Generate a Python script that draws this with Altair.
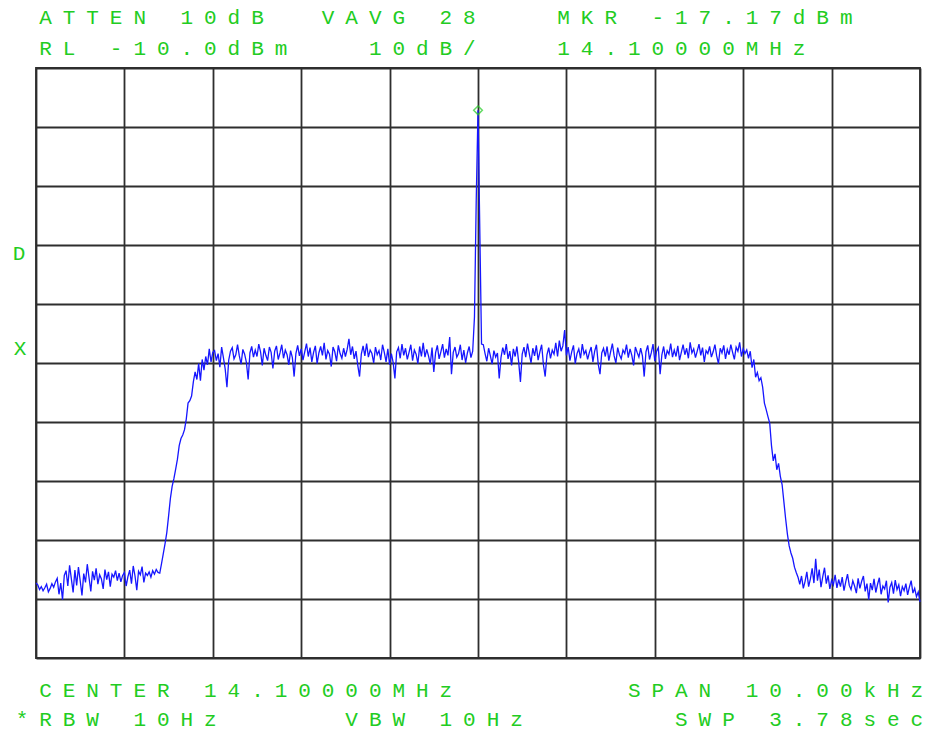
import altair as alt
import numpy as np
import pandas as pd

# ---- instrument settings -------------------------------------------------
center_mhz = 14.10000
span_khz = 10.00
ref_level = -10.0      # dBm, top of screen
db_per_div = 10
marker_dbm = -17.17

# ---- sweep trace (dBm), 501 points left to right --------------------------
floor_left = [
    -97.3, -97.6, -98.4, -97.9, -98.6, -98.1, -97.5, -98.8, -98.2, -97.4,
    -98.0, -97.1, -96.5, -99.2, -97.3, -100.1, -96.0, -95.2, -97.8, -94.3,
    -96.6, -98.9, -95.1, -97.7, -94.6, -96.9, -99.4, -95.7, -97.2, -94.1,
    -96.4, -98.7, -95.3, -96.8, -94.8, -97.5, -95.9, -96.6, -98.3, -95.0,
    -96.7, -95.4, -97.9, -95.8, -96.3, -95.2, -96.9, -95.6, -97.1, -96.0,
    -95.5, -97.8, -96.2, -95.1, -97.4, -94.4, -96.1, -98.5, -95.3, -95.9,
    -94.5, -97.2, -95.6, -96.0, -95.4, -96.3, -95.2, -95.8, -95.0, -95.5,
]
rise_left = [
    -95.6, -94.0, -92.3, -90.6, -88.7, -85.9, -83.0, -80.9, -79.6, -78.0,
    -76.3, -74.0, -72.8, -72.2, -71.3, -69.5, -66.8, -66.4, -65.6, -63.2,
    -61.5,
]
plateau_left = [
    -62.8, -60.1, -63.0, -59.4, -61.2, -58.9, -60.3, -57.6, -59.8, -58.2,
    -57.9, -59.6, -58.4, -60.7, -57.3, -59.1, -61.0, -64.1, -59.5, -58.0,
    -57.4, -59.3, -58.6, -56.9, -58.8, -60.2, -57.7, -58.5, -59.9, -62.8,
    -58.3, -57.2, -59.0, -57.8, -58.9, -56.8, -58.1, -60.4, -57.5, -58.7,
    -59.6, -57.3, -58.2, -60.9, -58.0, -57.1, -59.4, -58.3, -56.9, -59.2,
    -57.8, -58.6, -60.3, -57.9, -59.1, -62.3, -58.4, -57.0, -58.8, -57.6,
    -59.5, -58.1, -56.7, -58.9, -57.4, -59.8, -58.2, -57.1, -60.1, -58.3,
    -57.2, -58.7, -56.6, -59.4, -57.9, -58.5, -60.6, -57.3, -58.1, -59.7,
    -57.0, -58.4, -59.2, -57.5, -58.9, -57.7, -55.9, -58.6, -57.2, -59.3,
    -58.0, -60.4, -62.3, -58.5, -57.1, -58.8, -56.7, -59.0, -57.8, -58.4,
    -60.0, -57.3, -58.6, -57.9, -59.5, -56.9, -58.2, -59.8, -57.6, -60.3,
    -58.4, -59.9, -62.6, -58.1, -57.4, -59.2, -56.8, -58.7, -57.5, -59.4,
    -58.2, -56.9, -59.6, -57.8, -58.5, -60.1, -57.2, -58.9, -56.6, -59.0,
    -57.7, -58.8, -60.2, -57.4, -61.5, -58.3, -57.0, -59.3, -58.1, -56.8,
    -59.1, -57.6, -58.7, -55.6, -61.9, -58.2, -57.3, -59.0, -58.4, -56.9,
    -59.5, -57.8, -60.0, -58.3, -57.2, -59.1, -58.0,
]
carrier = [-52.2, -32.4, marker_dbm, -37.1, -56.8]
plateau_right = [
    -56.9, -58.4, -59.7, -57.5, -58.8, -60.2, -57.9, -59.0,
    -58.3, -62.6, -59.1, -57.4, -58.6, -56.8, -59.3, -58.0, -60.4, -57.6,
    -58.9, -57.2, -59.8, -63.2, -58.5, -57.3, -59.0, -56.7, -58.4, -60.0,
    -57.5, -58.8, -57.0, -59.5, -58.1, -56.9, -60.3, -62.3, -58.6, -57.4,
    -59.2, -57.8, -58.5, -56.6, -58.9, -56.2, -58.0, -57.1, -54.4, -58.7,
    -57.3, -59.6, -58.1, -57.0, -60.1, -58.4, -57.6, -59.2, -56.8, -58.5,
    -57.9, -59.4, -58.2, -57.3, -59.8, -58.0, -56.9, -60.2, -61.9, -58.3,
    -57.5, -58.9, -57.2, -59.6, -58.1, -56.7, -58.8, -60.0, -57.4, -58.6,
    -59.3, -57.8, -58.4, -56.9, -59.1, -57.6, -58.7, -60.4, -57.3, -58.2,
    -59.0, -57.5, -58.8, -62.3, -58.1, -57.0, -59.4, -58.3, -56.8, -59.7,
    -58.0, -57.4, -61.9, -58.6, -57.2, -59.3, -57.9, -58.5, -56.7, -59.0,
    -57.8, -58.9, -57.1, -59.5, -58.2, -56.9, -58.6, -57.5, -59.2, -56.5,
    -58.3, -57.6, -59.1, -58.0, -56.8, -58.7, -57.4, -59.8, -57.9, -58.4,
    -57.2, -59.0, -58.1, -56.9, -58.8, -60.1, -57.5, -58.3, -57.0, -59.3,
    -57.7, -58.6, -56.9, -58.2, -59.4, -57.3, -58.0, -56.5, -58.9, -57.6,
    -58.4, -57.8,
]
fall_right = [
    -59.2, -58.0, -60.8, -59.4, -62.4, -61.6, -63.0, -62.5, -64.1, -66.8,
    -67.9, -69.1, -70.2, -74.0, -76.6, -75.4, -78.1, -77.0, -79.2, -80.6,
    -83.5, -86.4, -89.0, -91.0, -92.2, -93.1, -94.6, -95.5,
]
floor_right = [
    -96.3, -97.5, -96.1, -98.2, -97.0, -95.4, -97.9, -96.6, -94.8, -97.3,
    -93.2, -96.9, -95.0, -98.0, -96.2, -94.7, -97.4, -96.0, -98.3, -96.8,
    -97.6, -95.9, -98.1, -96.7, -97.9, -96.3, -98.6, -97.1, -95.8, -97.7,
    -98.4, -96.9, -97.8, -99.0, -96.5, -98.2, -97.0, -96.1, -98.7, -97.4,
    -100.1, -97.3, -98.5, -96.6, -98.9, -97.5, -96.4, -99.2, -97.8, -98.3,
    -96.9, -100.6, -98.0, -97.2, -99.1, -96.8, -98.4, -97.6, -99.5, -97.9,
    -98.6, -97.4, -99.3, -98.0, -96.9, -99.0, -98.2, -99.6, -98.8, -100.5,
]

level = (floor_left + rise_left + plateau_left + carrier
         + plateau_right + fall_right + floor_right)
offset = np.linspace(-span_khz / 2, span_khz / 2, len(level))
trace = pd.DataFrame({"offset_khz": offset, "dbm": level})
marker = pd.DataFrame({"offset_khz": [0.0], "dbm": [marker_dbm]})

# ---- screen annotation text --------------------------------------------
GREEN = "#22cc22"
PITCH = 23.55         # character cell width of the annotation font
X0 = 9.5              # centre of the first character cell

header = [
    (f"ATTEN 10dB  VAVG 28   MKR {marker_dbm:.2f}dBm", 0, -44),
    (f"RL {ref_level:.1f}dBm   {db_per_div}dB/   {center_mhz:.5f}MHz", 0, -13),
    (f"CENTER {center_mhz:.5f}MHz       SPAN {span_khz:.2f}kHz", 0, 629),
    ("*RBW 10Hz     VBW 10Hz      SWP 3.78sec", -1, 658),
]
rows = []
for text, start, base in header:
    for k, ch in enumerate(text):
        if ch != " ":
            rows.append({"ch": ch, "px": X0 + (start + k) * PITCH, "py": base})
rows.append({"ch": "D", "px": -17, "py": 192})
rows.append({"ch": "X", "px": -16, "py": 287})
labels = pd.DataFrame(rows)

# ---- chart -----------------------------------------------------------------
W, H = 884, 590
GRID = "#2e2e2e"
bottom = ref_level - 10 * db_per_div

xs = alt.Scale(domain=[-span_khz / 2, span_khz / 2], nice=False, zero=False)
ys = alt.Scale(domain=[bottom, ref_level], nice=False, zero=False)
x_axis = alt.Axis(values=list(np.linspace(-5, 5, 11)), labels=False, ticks=False,
                  domain=False, title=None, grid=True, gridColor=GRID,
                  gridWidth=1.8, gridOpacity=1)
y_axis = alt.Axis(values=list(np.arange(bottom, ref_level + 1, db_per_div)),
                  labels=False, ticks=False, domain=False, title=None,
                  grid=True, gridColor=GRID, gridWidth=1.8, gridOpacity=1)

line = alt.Chart(trace).mark_line(color="#1616ff", strokeWidth=1.3).encode(
    x=alt.X("offset_khz:Q", scale=xs, axis=x_axis),
    y=alt.Y("dbm:Q", scale=ys, axis=y_axis),
)
mkr = alt.Chart(marker).mark_point(
    shape="diamond", filled=False, color=GREEN, size=75, strokeWidth=1.5
).encode(
    x=alt.X("offset_khz:Q", scale=xs, axis=None),
    y=alt.Y("dbm:Q", scale=ys, axis=None),
)
txt = alt.Chart(labels).mark_text(
    font="Liberation Mono", fontSize=21, color=GREEN, align="center",
    baseline="alphabetic"
).encode(
    x=alt.X("px:Q", scale=None, axis=None),
    y=alt.Y("py:Q", scale=None, axis=None),
    text="ch:N",
)

chart = (
    alt.layer(line, mkr, txt)
    .resolve_scale(x="independent", y="independent")
    .properties(
        width=W, height=H, autosize="none",
        padding={"left": 36, "top": 68, "right": 7, "bottom": 73},
        background="white",
    )
    .configure_view(stroke=GRID, strokeWidth=1.8)
)

chart.save("out.html", embed_options={"renderer": "svg", "actions": False})
